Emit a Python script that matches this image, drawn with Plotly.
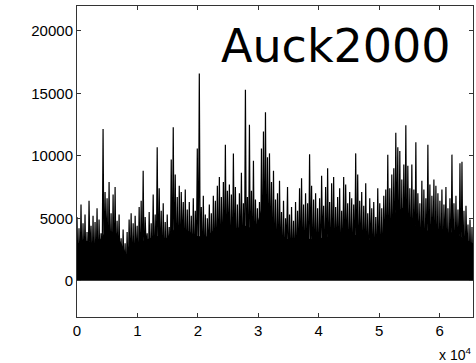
import numpy as np
import plotly.graph_objects as go

# Upper tips of the signal (one per ~330 samples)
peaks = [
    5100, 4200, 6100, 4600, 5300, 3900, 6400, 4400, 5200, 4700,
    5800, 4900, 3800, 12150, 7100, 6600, 7900, 5400, 6900, 7500,
    4800, 5300, 3400, 4100, 3000, 3900, 4900, 5400, 4600, 5200,
    4400, 5900, 6400, 8800, 5100, 3800, 5500, 4600, 6900, 5300,
    10700, 7400, 5600, 6200, 4700, 5300, 4300, 9700, 12300, 8500,
    6700, 7600, 7100, 6300, 7300, 5700, 6300, 5200, 6600, 5600,
    10600, 16600, 5900, 6800, 5300, 5000, 6100, 5400, 6800, 6400,
    7600, 8300, 6700, 7900, 10900, 7200, 7700, 6900, 10200, 7500,
    6100, 7000, 8650, 6200, 15300, 6700, 12500, 7200, 9600, 6500,
    5800, 6300, 10600, 11950, 13500, 9900, 10200, 7900, 8800, 6500,
    7000, 8000, 5500, 6400, 5000, 7500, 5300, 5900, 4800, 6300,
    5600, 7400, 8200, 6100, 7000, 6200, 10130, 7600, 6500, 7000,
    5800, 6600, 8400, 6000, 7500, 9000, 6300, 7800, 8300, 5900,
    6700, 7400, 5600, 8300, 7700, 6200, 7100, 6600, 6100, 10200,
    8500, 6400, 7100, 6000, 7800, 5400, 6600, 5800, 6300, 5100,
    7400, 6200, 5800, 6800, 7300, 10100, 7400, 8500, 9000, 11850,
    10700, 10400, 8100, 9300, 12450, 9200, 7400, 9300, 7300, 11100,
    7000, 6200, 8000, 7300, 6600, 10900, 7700, 6800, 8100, 7600,
    7000, 6400, 7300, 6100, 7500, 5800, 6600, 10100, 6200, 6800,
    5700, 9400, 9530, 5600, 6000, 4500, 4900, 4300,
]

# Lower dips between the tips
troughs = [
    150, 300, 120, 800, 200, 140, 1900, 260, 110, 450,
    180, 900, 130, 320, 2200, 170, 240, 130, 600, 150,
    1400, 210, 120, 380, 160, 110, 700, 250, 140, 1200,
    190, 330, 120, 160, 2600, 210, 140, 500, 120, 280,
    170, 950, 130, 230, 110, 1600, 200, 150, 420, 130,
    260, 180, 2100, 140, 310, 120, 680, 190, 150, 1100,
    240, 130, 370, 160, 120, 1800, 210, 140, 520, 170,
    290, 130, 850, 150, 220, 2400, 180, 120, 400, 160,
    140, 1300, 250, 130, 600, 190, 110, 350, 170, 2000,
    140, 260, 130, 780, 150, 200, 1500, 120, 330, 180,
    130, 900, 210, 150, 2300, 170, 120, 450, 240, 130,
    1000, 160, 280, 140, 620, 190, 1700, 130, 250, 150,
    380, 120, 2500, 200, 140, 560, 170, 310, 130, 1200,
    220, 150, 430, 120, 1900, 180, 260, 140, 700, 160,
    130, 1400, 240, 120, 350, 190, 2200, 150, 280, 130,
    820, 170, 140, 1600, 210, 120, 480, 160, 300, 2700,
    140, 190, 130, 650, 250, 1100, 150, 120, 390, 180,
    2000, 140, 260, 130, 900, 170, 220, 1500, 140, 330,
    120, 610, 190, 2300, 150, 240, 130, 750, 160, 1300,
    210, 120, 400, 170, 1800, 140, 260, 150,
]

# Level up to which the dense trace looks solid black (x in samples)
core_x = [0, 1640, 3280, 4920, 6560, 8200, 9840, 11480, 13120, 14760,
          16400, 18040, 19680, 21320, 22960, 24600, 26240, 27880, 29520, 31160,
          32800, 34440, 36080, 37720, 39360, 41000, 42640, 44280, 45920, 47560,
          49200, 50840, 52480, 54120, 55760, 57400, 59040, 60680, 62320, 63960,
          65536]
core_y = [3000, 3200, 2900, 4100, 3800, 2100, 3000, 3300, 3600, 3400,
          4300, 4100, 3600, 3500, 4200, 4400, 4200, 4400, 4100, 6800,
          3600, 3400, 3200, 3400, 3300, 3500, 3600, 3900, 3700, 3400,
          3200, 3800, 5400, 5900, 4500, 4100, 3900, 3800, 3900, 3400,
          3000]

x_ticks = [0, 10000, 20000, 30000, 40000, 50000, 60000]
x_tick_labels = ["0", "1", "2", "3", "4", "5", "6"]
y_ticks = [0, 5000, 10000, 15000, 20000]
y_tick_labels = ["0", "5000", "10000", "15000", "20000"]
n_samples = 65536
title_text = "Auck2000"

vals = []
for p, t in zip(peaks, troughs):
    vals.append(p)
    vals.append(t)
xs = np.linspace(0, n_samples - 1, len(vals))

fig = go.Figure()
fig.add_trace(go.Scatter(x=core_x, y=core_y, mode="lines", fill="tozeroy",
                         fillcolor="black", line=dict(color="black", width=0),
                         hoverinfo="skip", showlegend=False))
fig.add_trace(go.Scatter(x=xs, y=vals, mode="lines",
                         line=dict(color="black", width=1.2),
                         hoverinfo="skip", showlegend=False))

axis_common = dict(showline=True, linecolor="#333333", linewidth=1, mirror="ticks",
                   ticks="inside", ticklen=4, tickcolor="#333333", showgrid=False,
                   zeroline=False,
                   tickfont=dict(family="Liberation Sans, Arial, sans-serif", size=15, color="black"))

fig.update_xaxes(range=[0, n_samples], tickmode="array", tickvals=x_ticks,
                 ticktext=x_tick_labels, **axis_common)
fig.update_yaxes(range=[-2900, 22000], tickmode="array", tickvals=y_ticks,
                 ticktext=y_tick_labels, **axis_common)

fig.add_annotation(xref="paper", yref="paper", x=0.95, y=0.872,
                   xanchor="right", yanchor="middle", showarrow=False,
                   text=title_text,
                   font=dict(family="DejaVu Sans", size=46, color="black"))
fig.add_annotation(xref="paper", yref="paper", x=1.0, y=-0.118,
                   xanchor="right", yanchor="middle", showarrow=False,
                   text="x 10<sup>4</sup>",
                   font=dict(family="Liberation Sans, Arial, sans-serif", size=14, color="black"))

fig.update_layout(width=476, height=363,
                  margin=dict(l=77, r=3, t=6, b=46),
                  paper_bgcolor="white", plot_bgcolor="white")

fig.write_html("out.html")
